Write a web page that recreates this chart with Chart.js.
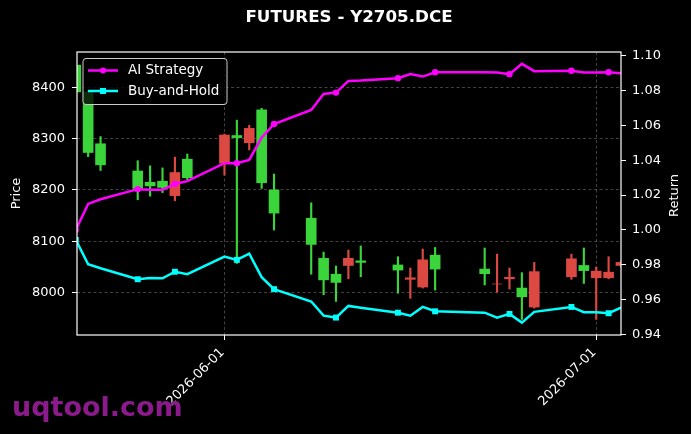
<!DOCTYPE html>
<html>
<head>
<meta charset="utf-8">
<script src="https://cdn.jsdelivr.net/npm/chart.js@4.4.1/dist/chart.umd.min.js"></script>
<style>
html, body { margin: 0; padding: 0; background: #000; }
#wrap { position: relative; width: 691px; height: 434px; }
</style>
</head>
<body>
<div id="wrap"><canvas id="chart"></canvas></div>
<script>
var dates = ['2026-05-20', '2026-05-21', '2026-05-22', '2026-05-25', '2026-05-26', '2026-05-27', '2026-05-28', '2026-05-29',
	'2026-06-01', '2026-06-02', '2026-06-03', '2026-06-04', '2026-06-05', '2026-06-08', '2026-06-09', '2026-06-10',
	'2026-06-11', '2026-06-12', '2026-06-15', '2026-06-16', '2026-06-17', '2026-06-18', '2026-06-22', '2026-06-23',
	'2026-06-24', '2026-06-25', '2026-06-26', '2026-06-29', '2026-06-30', '2026-07-01', '2026-07-02', '2026-07-03']
var opens  = [8443, 8391, 8290, 8237, 8215, 8217, 8189, 8260, 8252, 8306, 8292, 8356, 8200, 8145, 8067, 8036,
	8053, 8062, 8054, 8026, 8011, 8073, 8046, 8017, 8027, 8009, 7972, 8031, 8053, 8029, 8029, 8053]
var highs  = [8447, 8394, 8304, 8257, 8247, 8243, 8264, 8270, 8309, 8336, 8326, 8359, 8231, 8175, 8079, 8052,
	8083, 8091, 8070, 8048, 8085, 8088, 8087, 8075, 8048, 8039, 8059, 8075, 8087, 8050, 8070, 8062]
var lows   = [8388, 8265, 8238, 8181, 8188, 8195, 8179, 8219, 8229, 8057, 8278, 8203, 8122, 8036, 7996, 7983,
	8027, 8031, 7999, 7989, 8009, 8005, 8015, 8001, 8007, 7948, 7970, 8026, 8018, 7948, 8027, 8050]
var closes = [8391, 8273, 8249, 8203, 8208, 8205, 8234, 8224, 8307, 8302, 8320, 8214, 8155, 8094, 8025, 8020,
	8067, 8059, 8044, 8029, 8064, 8046, 8037, 8017, 8030, 7992, 8041, 8066, 8043, 8042, 8040, 8059]
var aiReturn   = [1.000, 1.0149, 1.0176, 1.0234, 1.023, 1.023, 1.0264, 1.028, 1.0383, 1.0383, 1.0402, 1.053, 1.0608, 1.0688, 1.078, 1.0788,
	1.0855, 1.0857, 1.0871, 1.0894, 1.088, 1.0905, 1.0905, 1.0903, 1.0894, 1.0953, 1.0911, 1.0913, 1.0903, 1.0903, 1.0905, 1.0899]
var holdReturn = [0.9943, 0.9803, 0.978, 0.9717, 0.9724, 0.9722, 0.976, 0.9746, 0.9847, 0.9828, 0.9864, 0.9729, 0.966, 0.9589, 0.9508, 0.9497,
	0.9564, 0.9554, 0.9525, 0.9508, 0.9558, 0.9533, 0.9525, 0.9497, 0.9518, 0.9468, 0.953, 0.9558, 0.9528, 0.9528, 0.9522, 0.9554]
var priceTicks  = [8000, 8100, 8200, 8300, 8400]
var returnTicks = [0.94, 0.96, 0.98, 1.00, 1.02, 1.04, 1.06, 1.08, 1.10]
var dateTicks   = ['2026-06-01', '2026-07-01']

var baseDay = Date.UTC(2026, 5, 1)
var dayNum = function(s) {
	var p = s.split('-')
	return (Date.UTC(+p[0], +p[1] - 1, +p[2]) - baseDay) / 86400000
}
var dayLabel = function(n) {
	return new Date(baseDay + n * 86400000).toISOString().slice(0, 10)
}

var UP = '#dc4842', DOWN = '#3bd43b'
var candleColor = function(ctx) {
	var i = ctx.dataIndex
	return closes[i] >= opens[i] ? UP : DOWN
}
var everyThird = function(r) {
	return function(ctx) { return ctx.dataIndex % 3 === 0 ? r : 0 }
}

Chart.defaults.font.family = 'DejaVu Sans'
Chart.defaults.font.size = 13
Chart.defaults.color = '#fff'

var gridLine = { color: 'rgba(150,150,150,0.55)', lineWidth: 0.8, tickColor: '#fff', tickLength: 5, tickWidth: 1, tickBorderDash: [], offset: false }

var decor = {
	id: 'decor',
	afterDatasetsDraw: function(chart) {
		var ctx = chart.ctx, a = chart.chartArea
		ctx.save()
		ctx.strokeStyle = '#fff'
		ctx.lineWidth = 1.2
		ctx.strokeRect(a.left, a.top, a.right - a.left, a.bottom - a.top)

		// legend box, top left inside the plot
		var bx = a.left + 6, by = a.top + 6.5
		ctx.beginPath()
		ctx.roundRect(bx, by, 144, 46, 3)
		ctx.fillStyle = 'rgba(0,0,0,0.8)'
		ctx.fill()
		ctx.strokeStyle = '#cccccc'
		ctx.lineWidth = 1
		ctx.stroke()
		var lines = chart.data.datasets.filter(function(d) { return d.type === 'line' })
		lines.forEach(function(d, k) {
			var ly = by + 12 + k * 20.5
			ctx.strokeStyle = d.borderColor
			ctx.lineWidth = 2.5
			ctx.beginPath()
			ctx.moveTo(bx + 5, ly)
			ctx.lineTo(bx + 35, ly)
			ctx.stroke()
			ctx.fillStyle = d.borderColor
			if (d.pointStyle === 'rect') ctx.fillRect(bx + 17, ly - 3, 6, 6)
			else { ctx.beginPath(); ctx.arc(bx + 20, ly, 3, 0, Math.PI * 2); ctx.fill() }
			ctx.fillStyle = '#fff'
			ctx.font = '13.5px "DejaVu Sans"'
			ctx.textBaseline = 'middle'
			ctx.textAlign = 'left'
			ctx.fillText(d.label, bx + 45, ly)
		})
		ctx.restore()
	},
	afterDraw: function(chart) {
		var ctx = chart.ctx, a = chart.chartArea
		ctx.save()
		ctx.fillStyle = '#fff'
		ctx.textAlign = 'center'
		ctx.textBaseline = 'middle'
		ctx.font = 'bold 16.7px "DejaVu Sans"'
		ctx.fillText('FUTURES - Y2705.DCE', (a.left + a.right) / 2, 18)

		ctx.font = '13px "DejaVu Sans"'
		ctx.translate(675, (a.top + a.bottom) / 2 + 2)
		ctx.rotate(-Math.PI / 2)
		ctx.fillText('Return', 0, 0)
		ctx.restore()

		ctx.save()
		ctx.fillStyle = '#8b1a8b'
		ctx.font = 'bold 27px "DejaVu Sans"'
		ctx.textAlign = 'left'
		ctx.textBaseline = 'alphabetic'
		ctx.fillText('uqtool.com', 12, 416)
		ctx.restore()
	}
}

new Chart(document.getElementById('chart'), {
	type: 'bar',
	data: {
		datasets: [
			{
				type: 'line', label: 'AI Strategy', yAxisID: 'y2', order: 0,
				data: dates.map(function(d, i) { return { x: dayNum(d), y: aiReturn[i] } }),
				borderColor: '#ff00ff', backgroundColor: '#ff00ff', borderWidth: 2.5,
				pointStyle: 'circle', pointRadius: everyThird(3.2), pointBorderWidth: 0, tension: 0
			},
			{
				type: 'line', label: 'Buy-and-Hold', yAxisID: 'y2', order: 0,
				data: dates.map(function(d, i) { return { x: dayNum(d), y: holdReturn[i] } }),
				borderColor: '#00ffff', backgroundColor: '#00ffff', borderWidth: 2.5,
				pointStyle: 'rect', pointRadius: everyThird(4.2), pointBorderWidth: 0, tension: 0
			},
			{
				type: 'bar', label: 'body', yAxisID: 'y', order: 1, grouped: false,
				data: dates.map(function(d, i) { return { x: dayNum(d), y: [opens[i], closes[i]] } }),
				backgroundColor: candleColor, barThickness: 10, borderWidth: 0
			},
			{
				type: 'bar', label: 'wick', yAxisID: 'y', order: 2, grouped: false,
				data: dates.map(function(d, i) { return { x: dayNum(d), y: [lows[i], highs[i]] } }),
				backgroundColor: candleColor, barThickness: 1.5, borderWidth: 0
			}
		]
	},
	options: {
		responsive: true,
		maintainAspectRatio: false,
		animation: false,
		events: [],
		layout: { padding: { top: 52, left: 0, right: 0, bottom: 0 } },
		plugins: { legend: { display: false }, title: { display: false }, tooltip: { enabled: false } },
		scales: {
			x: {
				type: 'linear', min: -11.9, max: 32, offset: false,
				afterBuildTicks: function(s) { s.ticks = dateTicks.map(function(d) { return { value: dayNum(d) } }) },
				afterFit: function(s) { s.height = 99 },
				ticks: { callback: function(v) { return dayLabel(v) }, minRotation: 45, maxRotation: 45, autoSkip: false, padding: 5, labelOffset: -2 },
				grid: gridLine,
				border: { display: false, dash: [3, 2.5] }
			},
			y: {
				position: 'left', min: 7917.6, max: 8468.7,
				afterBuildTicks: function(s) { s.ticks = priceTicks.map(function(v) { return { value: v } }) },
				afterFit: function(s) { s.width = 77 },
				ticks: { padding: 7, callback: function(v) { return String(v) } },
				title: { display: true, text: 'Price', padding: { top: 9, bottom: 0 } },
				grid: gridLine,
				border: { display: false, dash: [3, 2.5] }
			},
			y2: {
				position: 'right', min: 0.9397, max: 1.1021,
				afterBuildTicks: function(s) { s.ticks = returnTicks.map(function(v) { return { value: v } }) },
				afterFit: function(s) { s.width = 70 },
				ticks: { padding: 6, callback: function(v) { return v.toFixed(2) } },
				grid: { drawOnChartArea: false, tickColor: '#fff', tickLength: 5, tickWidth: 1 },
				border: { display: false }
			}
		}
	},
	plugins: [decor]
})
</script>
</body>
</html>
